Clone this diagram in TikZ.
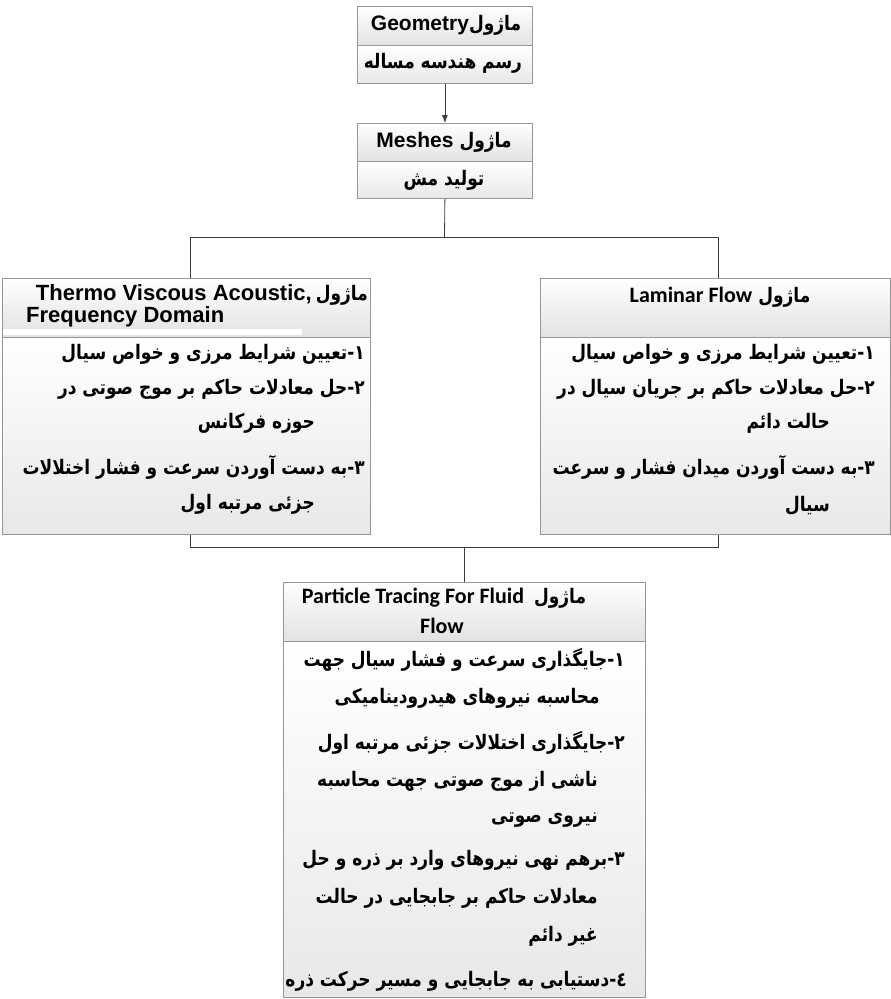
\documentclass[tikz,border=0pt]{standalone}
\usepackage{fontspec}
\usepackage{graphicx}
\TeXXeTstate=1
\newfontfamily\fa[Script=Arabic]{DejaVu Sans}
\newfontfamily\arialf{Liberation Sans}
\newfontfamily\calf{Carlito}
\usetikzlibrary{arrows.meta}
\definecolor{boxgray}{RGB}{150,150,150}
\definecolor{ttlgray}{RGB}{226,226,226}
\definecolor{bdygray}{RGB}{232,232,232}
\definecolor{linegray}{RGB}{60,60,60}
\newcommand\fat[1]{\scalebox{0.85}[1]{\fa\bfseries\fontsize{20}{23}\selectfont\beginR #1\endR}}
\newcommand\ena[2]{{\arialf\bfseries\fontsize{#1}{#1}\selectfont #2}}
\newcommand\enc[1]{{\calf\bfseries\fontsize{22}{24}\selectfont #1}}
\tikzset{
  box/.style={draw=boxgray, line width=0.8pt, rectangle, inner sep=0pt, anchor=north west},
  ttl/.style={box, top color=white, bottom color=ttlgray},
  bdy/.style={box, top color=white, bottom color=bdygray},
  link/.style={draw=linegray, line width=0.8pt},
  txt/.style={inner sep=0pt, text height=14pt, text depth=5pt},
  rtxt/.style={txt, anchor=east},
}
\begin{document}
\begin{tikzpicture}[x=1pt,y=-1pt]
\useasboundingbox[fill=white] (0,0) rectangle (891,999);
% Geometry
\node[ttl, minimum width=175pt, minimum height=39pt] (geoT) at (357,6) {};
\node[bdy, minimum width=175pt, minimum height=38pt] (geoB) at (357,45) {};
\node[txt] (geoTt) at (446,26) {\ena{21}{Geometry}\fat{ماژول}};
\node[txt] (geoBt) at (443,64) {\fat{رسم هندسه مساله}};
% Meshes
\node[ttl, minimum width=175pt, minimum height=38pt] (mesT) at (357,123) {};
\node[bdy, minimum width=175pt, minimum height=37pt] (mesB) at (357,161) {};
\node[txt] (mesTt) at (444,143) {\ena{21}{Meshes}\hspace{6pt}\fat{ماژول}};
\node[txt] (mesBt) at (444,181) {\fat{تولید مش}};
% Left
\node[ttl, minimum width=368pt, minimum height=59pt] (lefT) at (2,278) {};
\node[bdy, minimum width=368pt, minimum height=197pt] (lefB) at (2,337) {};
\fill[white] (3,329) rectangle (302,335);
\node[rtxt] (lefT1) at (368,296) {\ena{22}{Thermo Viscous Acoustic,}\hspace{4pt}\fat{ماژول}};
\node[txt, anchor=west] (lefT2) at (26,318) {\ena{22}{Frequency Domain}};
\node[rtxt] (lef1) at (365,355) {\fat{۱-تعیین شرایط مرزی و خواص سیال}};
\node[rtxt] (lef2) at (365,390) {\fat{۲-حل معادلات حاکم بر موج صوتی در}};
\node[rtxt] (lef3) at (315,424) {\fat{حوزه فرکانس}};
\node[rtxt] (lef4) at (365,470) {\fat{۳-به دست آوردن سرعت و فشار اختلالات}};
\node[rtxt] (lef5) at (315,505) {\fat{جزئی مرتبه اول}};
% Right
\node[ttl, minimum width=350pt, minimum height=59pt] (rigT) at (540,278) {};
\node[bdy, minimum width=350pt, minimum height=197pt] (rigB) at (540,337) {};
\node[txt] (rigTt) at (720,298) {\enc{Laminar Flow}\hspace{6pt}\fat{ماژول}};
\node[rtxt] (rig1) at (875,355) {\fat{۱-تعیین شرایط مرزی و خواص سیال}};
\node[rtxt] (rig2) at (875,390) {\fat{۲-حل معادلات حاکم بر جریان سیال در}};
\node[rtxt] (rig3) at (830,424) {\fat{حالت دائم}};
\node[rtxt] (rig4) at (875,470) {\fat{۳-به دست آوردن میدان فشار و سرعت}};
\node[rtxt] (rig5) at (830,507) {\fat{سیال}};
% Bottom
\node[ttl, minimum width=362pt, minimum height=59pt] (parT) at (283,582) {};
\node[bdy, minimum width=362pt, minimum height=356pt] (parB) at (283,641) {};
\node[txt] (parTt) at (444,599) {\enc{Particle Tracing For Fluid}\hspace{10pt}\fat{ماژول}};
\node[txt] (parTt2) at (442,629) {\enc{Flow}};
\node[rtxt] (par1) at (625,662) {\fat{۱-جایگذاری سرعت و فشار سیال جهت}};
\node[rtxt] (par2) at (600,699) {\fat{محاسبه نیروهای هیدرودینامیکی}};
\node[rtxt] (par3) at (625,745) {\fat{۲-جایگذاری اختلالات جزئی مرتبه اول}};
\node[rtxt] (par4) at (598,782) {\fat{ناشی از موج صوتی جهت محاسبه}};
\node[rtxt] (par5) at (598,818) {\fat{نیروی صوتی}};
\node[rtxt] (par6) at (625,861) {\fat{۳-برهم نهی نیروهای وارد بر ذره و حل}};
\node[rtxt] (par7) at (598,899) {\fat{معادلات حاکم بر جابجایی در حالت}};
\node[rtxt] (par8) at (598,937) {\fat{غیر دائم}};
\node[rtxt] (par9) at (627,982) {\fat{٤-دستیابی به جابجایی و مسیر حرکت ذره}};
% connectors
\coordinate (jm) at (444.5,237);
\coordinate (jl) at (190,237);
\coordinate (jr) at (718,237);
\coordinate (kl) at (190,547);
\coordinate (kr) at (718,547);
\coordinate (km) at (464,547);
\draw[link, -{Latex[length=8pt,width=6pt]}] (geoB.south) -- (mesT.north);
\draw[link] (mesB.south) -- (jm);
\draw[link] (lefT.north -| jl) -- (jl) -- (jr) -- (rigT.north -| jr);
\draw[link] (lefB.south -| kl) -- (kl) -- (kr) -- (rigB.south -| kr);
\draw[link] (km) -- (parT.north -| km);
\end{tikzpicture}
\end{document}
